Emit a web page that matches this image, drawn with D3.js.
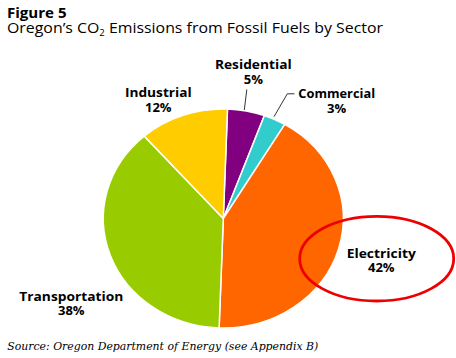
<!DOCTYPE html>
<html>
<head>
<meta charset="utf-8">
<script src="https://cdn.jsdelivr.net/npm/d3@7"></script>
<style>
  html, body { margin: 0; padding: 0; background: #fff; }
  svg { display: block; }
</style>
</head>
<body>
<svg id="chart" width="456" height="358"></svg>
<script>
const sectors = ["Residential", "Commercial", "Electricity", "Transportation", "Industrial"];
const shares = [5, 3, 42, 38, 12];
const colors = ["#800080", "#33cccc", "#ff6600", "#99cc00", "#ffcc00"];
const labelText = ["Residential", "Commercial", "Electricity", "Transportation", "Industrial"];
const pctText = ["5%", "3%", "42%", "38%", "12%"];

const svg = d3.select("#chart");
const W = 456, H = 358;
svg.append("rect").attr("width", W).attr("height", H).attr("fill", "#fff");

const sans = "'Open Sans', 'DejaVu Sans', sans-serif";

// Titles
svg.append("text").attr("x", 7).attr("y", 17.5)
  .attr("font-family", sans).attr("font-weight", 700).attr("font-size", 14)
  .attr("fill", "#000")
  .attr("textLength", 59.5).attr("lengthAdjust", "spacingAndGlyphs")
  .text("Figure 5");
const t = svg.append("text").attr("x", 7).attr("y", 33.3)
  .attr("font-family", sans).attr("font-size", 15).attr("fill", "#000")
  .attr("textLength", 376).attr("lengthAdjust", "spacingAndGlyphs");
t.append("tspan").text("Oregon\u2019s CO");
t.append("tspan").attr("font-size", 9).attr("dy", 3).text("2");
t.append("tspan").attr("dy", -3).text(" Emissions from Fossil Fuels by Sector");

// Pie
const cx = 223.3, cy = 218.5, ry = 109.5, rx = 120;
const start = 2 * Math.PI / 180;
const pie = d3.pie().sort(null).value(d => d.v).startAngle(start).endAngle(start + 2 * Math.PI);
const data = sectors.map((s, i) => ({ s, v: shares[i], c: colors[i] }));
const arcs = pie(data);
const arc = d3.arc().innerRadius(0).outerRadius(ry);

const g = svg.append("g").attr("transform", `translate(${cx},${cy}) scale(${rx / ry},1)`);
g.selectAll("path").data(arcs).enter().append("path")
  .attr("d", arc)
  .attr("fill", d => d.data.c)
  .attr("stroke", "#fff")
  .attr("stroke-width", 1.5)
  .attr("vector-effect", "non-scaling-stroke");

// Labels (name + percentage as one text block)
const labelPos = {
  Residential: [253.3, 69.3, 76.7],
  Commercial: [336.7, 98.3, 76.7],
  Electricity: [381.3, 257.7, 69.3],
  Transportation: [71.3, 301, 104],
  Industrial: [158.3, 97.3, 66.7]
};
sectors.forEach((s, i) => {
  const [x, y, w] = labelPos[s];
  const tx = svg.append("text").attr("text-anchor", "middle")
    .attr("font-family", sans).attr("font-weight", 700).attr("font-size", 13)
    .attr("fill", "#000");
  tx.append("tspan").attr("x", x).attr("y", y)
    .attr("textLength", w).attr("lengthAdjust", "spacingAndGlyphs")
    .text(labelText[i]);
  tx.append("tspan").attr("x", x).attr("y", y + 14.2)
    .text(pctText[i]);
});

// Leader lines
svg.append("line").attr("x1", 246.8).attr("y1", 89.5).attr("x2", 244.3).attr("y2", 110)
  .attr("stroke", "#000").attr("stroke-width", 0.8);
svg.append("polyline").attr("points", "294.5,93.8 287.3,93.8 274,116.7")
  .attr("fill", "none").attr("stroke", "#000").attr("stroke-width", 0.8);

// Red ellipse
svg.append("ellipse").attr("cx", 376.7).attr("cy", 258.7).attr("rx", 77).attr("ry", 42.3)
  .attr("fill", "none").attr("stroke", "#ee0000").attr("stroke-width", 2.8);

// Source
svg.append("text").attr("x", 7.3).attr("y", 350)
  .attr("font-family", "'DejaVu Serif', serif").attr("font-style", "italic").attr("font-size", 11)
  .attr("fill", "#000")
  .attr("textLength", 311).attr("lengthAdjust", "spacingAndGlyphs")
  .text("Source: Oregon Department of Energy (see Appendix B)");
</script>
</body>
</html>
